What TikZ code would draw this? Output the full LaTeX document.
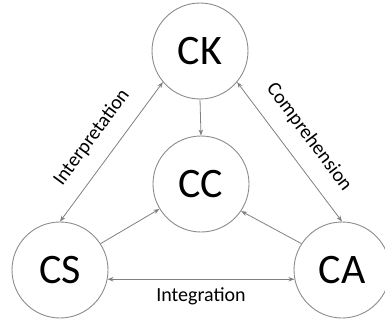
\documentclass[tikz,border=0pt]{standalone}
\usepackage{fontspec}
\setmainfont{Carlito}
\usetikzlibrary{arrows.meta}
\begin{document}
\begin{tikzpicture}[x=1pt,y=-1pt,
  circ/.style={draw=black!45, line width=0.9pt, circle, minimum size=96pt, inner sep=0pt, font=\fontsize{42}{42}\selectfont},
  tip/.tip={Stealth[length=6pt,width=4.5pt]},
  conn/.style={draw=black!50, line width=0.8pt, -tip},
  both/.style={draw=black!50, line width=0.8pt, tip-tip},
  lbl/.style={font=\fontsize{20}{20}\selectfont, inner sep=0pt}]
\useasboundingbox (0,0) rectangle (385,321);
\node[circ] (CK) at (200,51) {CK};
\node[circ] (CC) at (201,184) {CC};
\node[circ] (CS) at (60,270) {CS};
\node[circ] (CA) at (342,270) {CA};
\draw[conn] (CK.270) -- (CC.90);
\draw[conn] (CS.33) -- (CC.211);
\draw[conn] (CA.147) -- (CC.326);
\draw[both] (CS.90) -- node[lbl, sloped, above=19pt, anchor=base] {Interpretation} (CK.220);
\draw[both] (CK.320) -- node[lbl, sloped, above=19pt, anchor=base] {Comprehension} (CA.90);
\draw[both] (CS.-11) -- node[lbl, below=22pt, anchor=base] {Integration} (CA.191);
\end{tikzpicture}
\end{document}
